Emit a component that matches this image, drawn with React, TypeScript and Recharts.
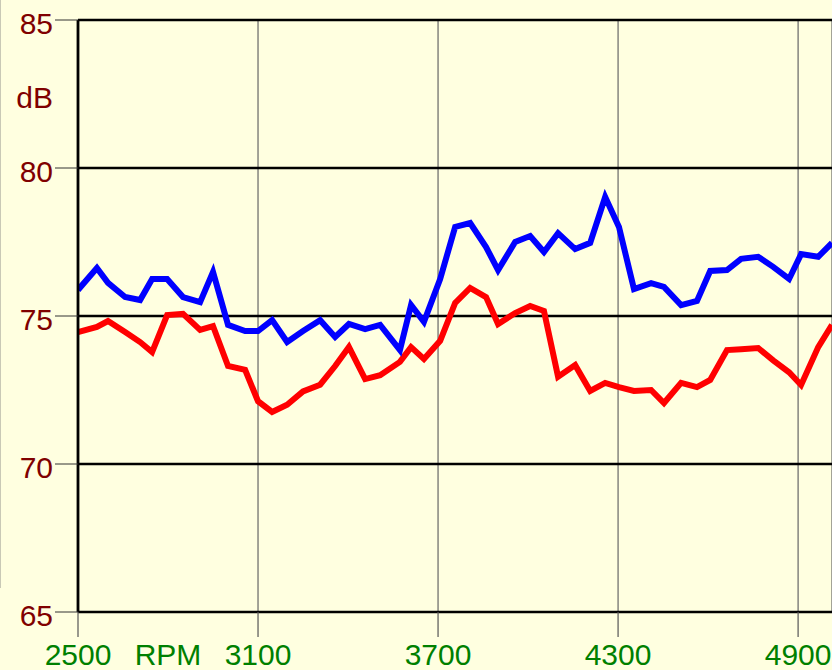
// Уровень шума по оборотам: две кривые на жёлтом поле, оси в стиле старого плоттера.
import { LineChart, Line, XAxis, YAxis, CartesianGrid, ReferenceLine } from "recharts";

const rpm = [
  2500, 2563, 2600, 2657, 2707, 2747, 2797, 2850, 2907, 2950,
  3000, 3057, 3100, 3147, 3197, 3250, 3307, 3357, 3403, 3457,
  3507, 3573, 3610, 3653, 3707, 3757, 3807, 3860, 3900, 3957,
  4007, 4053, 4100, 4157, 4207, 4257, 4303, 4353, 4410, 4453,
  4510, 4563, 4607, 4663, 4710, 4767, 4817, 4870, 4910, 4967, 5013,
];
const blueDb = [
  75.88, 76.62, 76.12, 75.64, 75.54, 76.25, 76.25, 75.64, 75.47, 76.49,
  74.7, 74.49, 74.49, 74.86, 74.12, 74.49, 74.86, 74.29, 74.73, 74.56,
  74.7, 73.85, 75.37, 74.8, 76.25, 78.01, 78.14, 77.33, 76.55, 77.5,
  77.7, 77.16, 77.8, 77.26, 77.47, 79.02, 78.01, 75.91, 76.11, 75.98,
  75.37, 75.51, 76.52, 76.55, 76.93, 77.0, 76.66, 76.25, 77.09, 77.0, 77.47,
];
const redDb = [
  74.46, 74.63, 74.83, 74.46, 74.12, 73.78, 75.03, 75.07, 74.53, 74.66,
  73.31, 73.18, 72.12, 71.76, 72.0, 72.45, 72.68, 73.31, 73.95, 72.87,
  73.0, 73.45, 73.95, 73.55, 74.16, 75.44, 75.95, 75.64, 74.73, 75.1,
  75.34, 75.17, 72.95, 73.34, 72.47, 72.74, 72.6, 72.47, 72.5, 72.06,
  72.74, 72.6, 72.84, 73.85, 73.88, 73.92, 73.5, 73.1, 72.67, 73.95, 74.7,
];
const xTicks = [2500, 3100, 3700, 4300, 4900];
const yTicks = [65, 70, 75, 80, 85];
const xUnit = { at: 2800, text: "RPM" };
const yUnit = { at: 82.5, text: "dB" };

const data = rpm.map((r, i) => ({ rpm: r, blue: blueDb[i], red: redDb[i] }));

const FONT = "'Liberation Sans', Arial, sans-serif";
const FS = 30;
const BG = "#FFFFE0";
const X_CLR = "#008000";
const Y_CLR = "#800000";

function XTick(props: any) {
  const { x, y, payload } = props;
  return (
    <text x={x} y={y} dy="0.68em" textAnchor="middle" fill={X_CLR} fontSize={FS} fontFamily={FONT}>
      {payload.value}
    </text>
  );
}

function YTick(props: any) {
  const { x, y, payload } = props;
  return (
    <text x={x} y={y + 3} dy="0.355em" textAnchor="end" fill={Y_CLR} fontSize={FS} fontFamily={FONT}>
      {payload.value}
    </text>
  );
}

export default function App() {
  return (
    <div style={{ position: "absolute", left: 0, top: 0, width: 832, height: 670, overflow: "hidden", background: BG }}>
      <div style={{ position: "absolute", left: 0, top: 0, width: 1, height: 588, background: "#C9C9B6" }} />
      <LineChart width={832} height={670} data={data} margin={{ top: 20, right: 0, bottom: 0, left: 0 }}>
        <CartesianGrid horizontal={false} stroke="#666" strokeWidth={1.2} />
        <CartesianGrid vertical={false} stroke="#000" strokeWidth={2.5} />
        <XAxis
          dataKey="rpm" type="number" domain={[2500, 5013]} ticks={xTicks} allowDataOverflow
          height={58} tickSize={25} tickMargin={8} axisLine={false}
          tickLine={{ stroke: "#555", strokeWidth: 1.2 }} tick={<XTick />}
        />
        <YAxis
          type="number" domain={[65, 85]} ticks={yTicks} width={78} tickSize={23} tickMargin={2}
          axisLine={{ stroke: "#000", strokeWidth: 2.8 }} tickLine={{ stroke: "#333", strokeWidth: 1 }} tick={<YTick />}
        />
        <ReferenceLine
          x={xUnit.at} stroke="none"
          label={(p: any) => (
            <text x={p.viewBox.x} y={p.viewBox.y + p.viewBox.height + 33} dy="0.68em" textAnchor="middle"
                  fill={X_CLR} fontSize={FS} fontFamily={FONT}>{xUnit.text}</text>
          )}
        />
        <ReferenceLine
          y={yUnit.at} stroke="none"
          label={(p: any) => (
            <text x={p.viewBox.x - 25} y={p.viewBox.y + 3} dy="0.355em" textAnchor="end"
                  fill={Y_CLR} fontSize={FS} fontFamily={FONT}>{yUnit.text}</text>
          )}
        />
        <Line dataKey="red" stroke="#FF0000" strokeWidth={6} dot={false} isAnimationActive={false} />
        <Line dataKey="blue" stroke="#0000FF" strokeWidth={6} dot={false} isAnimationActive={false} />
      </LineChart>
    </div>
  );
}
